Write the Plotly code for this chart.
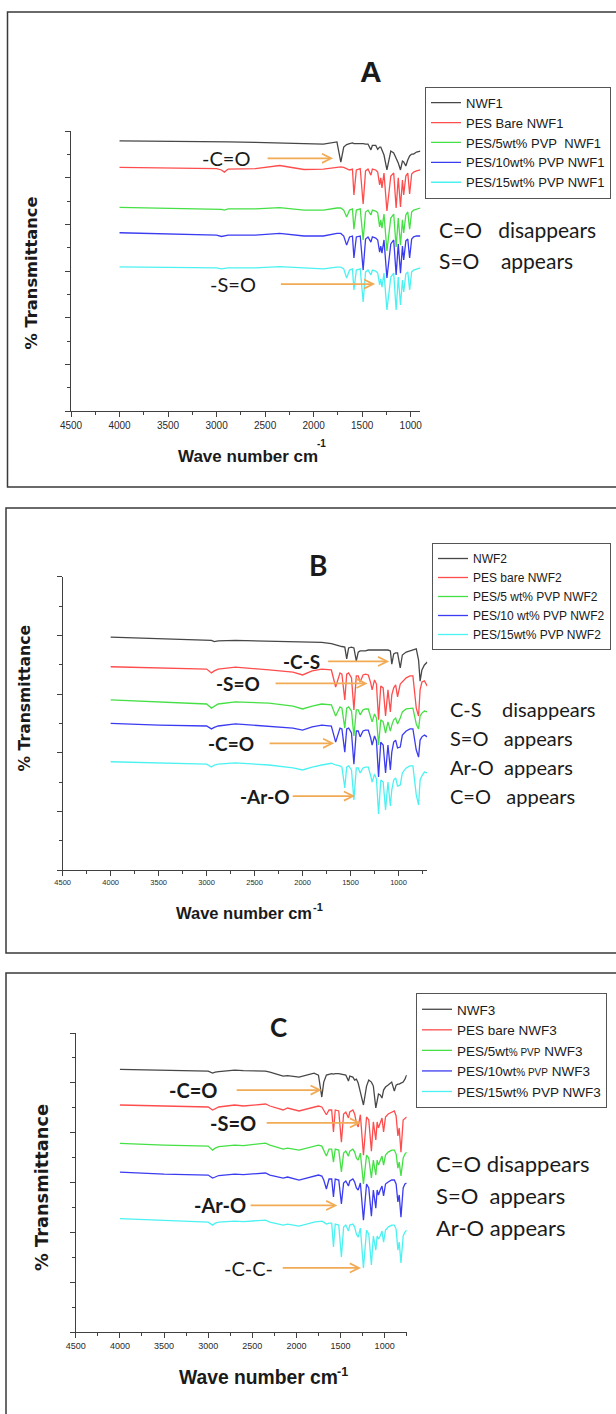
import plotly.graph_objects as go

W, H = 616, 1414

# ---------------- Panel A : NWF1 series ----------------
WN_A = [4000, 3500, 3000, 2950, 2920, 2880, 2600, 2350, 2100, 1900, 1760, 1720, 1690, 1660,
        1630, 1600, 1585, 1560, 1520, 1490, 1465, 1440, 1410, 1395, 1360, 1340, 1320, 1308,
        1296, 1275, 1245, 1205, 1175, 1150, 1128, 1105, 1085, 1072, 1050, 1030, 1011, 990,
        970, 940, 900]
A_NWF = [115.8, 115.7, 115.5, 115.4, 115.3, 115.3, 115.1, 114.9, 114.4, 114.4, 115.3, 106.7,
         113.1, 114.2, 114.6, 114.9, 114.6, 114.6, 114.9, 114.6, 114.4, 114.4, 111.9, 113.8,
         113.8, 112.1, 113.1, 113.1, 111.9, 109.7, 103.3, 111.4, 110.6, 108.4, 106.3, 103.3,
         107.1, 106.7, 105.0, 107.6, 109.3, 110.1, 110.1, 111.0, 111.4]
A_BARE = [104.4, 104.1, 103.9, 103.3, 102.4, 103.7, 103.9, 105.2, 103.5, 103.7, 104.6, 104.6,
          104.4, 103.7, 103.3, 103.7, 92.6, 103.3, 103.9, 88.7, 102.9, 103.7, 101.1, 103.7,
          103.3, 102.4, 96.9, 99.9, 95.6, 102.0, 85.7, 100.7, 102.0, 87.0, 99.9, 87.4, 99.0,
          92.6, 100.7, 102.0, 93.0, 101.6, 102.4, 102.9, 103.3]
A_PVP5 = [87.3, 87.0, 86.6, 86.4, 86.1, 86.6, 86.6, 87.2, 86.1, 86.1, 87.0, 87.0, 86.1, 83.1,
          86.1, 86.6, 77.9, 86.1, 86.6, 73.3, 85.3, 86.1, 84.0, 86.1, 85.7, 84.9, 78.9, 81.9,
          78.4, 84.4, 68.6, 82.7, 84.4, 70.3, 82.7, 71.1, 81.9, 76.3, 84.0, 85.3, 77.9, 85.3,
          86.1, 86.6, 87.0]
A_PVP10 = [76.4, 75.9, 75.4, 74.8, 75.0, 75.4, 75.4, 76.1, 75.0, 75.0, 76.1, 76.1, 75.0, 71.1,
           74.6, 75.0, 65.6, 74.6, 75.0, 60.4, 73.7, 74.6, 72.4, 74.6, 74.1, 73.3, 68.1, 70.7,
           67.7, 73.3, 57.0, 71.6, 73.3, 58.3, 71.6, 59.1, 70.7, 64.7, 72.9, 73.7, 65.6, 73.7,
           74.6, 75.0, 75.0]
A_PVP15 = [61.8, 61.5, 61.3, 60.9, 61.1, 61.3, 61.3, 61.9, 61.3, 60.9, 61.7, 61.7, 60.9, 57.0,
           60.4, 60.9, 51.9, 60.4, 60.9, 46.7, 59.6, 60.4, 58.3, 60.4, 60.0, 59.1, 54.0, 56.6,
           53.1, 59.1, 43.3, 57.4, 59.1, 43.3, 57.4, 45.4, 56.1, 51.0, 58.7, 59.6, 51.9, 59.6,
           60.4, 60.9, 61.3]
NAMES_A = ["NWF1", "PES Bare NWF1", "PES/5wt% PVP\u00a0 NWF1", "PES/10wt% PVP NWF1",
           "PES/15wt% PVP NWF1"]

# ---------------- Panel B : NWF2 series ----------------
WN_B = [4000, 3500, 3000, 2950, 2920, 2880, 2700, 2350, 2100, 2000, 1900, 1800, 1700, 1655,
        1610, 1590, 1560, 1540, 1520, 1490, 1465, 1440, 1420, 1400, 1370, 1345, 1315, 1290,
        1275, 1250, 1230, 1208, 1185, 1160, 1135, 1110, 1085, 1070, 1050, 1030, 1010, 982,
        960, 920, 880, 850, 815, 791, 775, 756, 730, 700]
B_NWF = [79.4, 78.9, 78.4, 78.3, 77.9, 78.1, 78.3, 78.1, 77.9, 77.9, 77.7, 77.6, 77.2, 76.7,
         76.4, 76.2, 76.0, 72.0, 75.7, 76.0, 75.7, 71.3, 74.3, 74.7, 74.7, 74.7, 75.0, 75.0,
         75.0, 75.0, 75.0, 75.0, 75.0, 75.0, 75.0, 75.0, 74.7, 70.2, 73.7, 74.0, 74.0, 68.9,
         73.3, 74.3, 74.7, 75.0, 75.4, 71.6, 64.4, 68.2, 69.9, 70.9]
B_BARE = [69.3, 68.9, 68.5, 67.2, 67.9, 68.5, 69.2, 68.2, 67.5, 66.5, 67.9, 68.5, 68.2, 62.4,
          67.2, 66.8, 58.0, 66.8, 67.2, 65.5, 54.6, 66.2, 66.2, 64.1, 66.5, 66.8, 66.5, 63.8,
          61.4, 64.8, 63.4, 51.2, 62.7, 62.1, 52.5, 61.4, 53.9, 59.7, 62.1, 63.1, 59.0, 63.4,
          64.1, 65.5, 66.2, 66.2, 55.2, 52.5, 61.4, 64.1, 64.5, 62.7]
B_PVP5 = [58.0, 57.3, 56.6, 55.2, 55.9, 56.6, 57.3, 56.9, 55.9, 54.9, 55.9, 56.6, 56.3, 52.5,
          55.6, 55.2, 48.4, 55.2, 55.6, 54.2, 45.7, 54.6, 54.6, 52.9, 54.6, 54.9, 54.9, 52.5,
          50.5, 53.2, 51.8, 42.6, 51.2, 50.5, 46.7, 50.5, 47.4, 49.4, 51.2, 51.8, 49.8, 51.8,
          53.9, 54.9, 55.2, 55.2, 49.8, 48.1, 52.5, 53.5, 54.2, 53.9]
B_PVP10 = [50.0, 49.4, 49.1, 48.1, 48.6, 49.1, 49.8, 49.1, 48.4, 47.7, 48.8, 49.4, 49.1, 43.6,
           48.4, 48.1, 40.2, 48.1, 48.4, 46.7, 36.1, 47.4, 47.4, 45.4, 47.4, 47.7, 47.7, 45.0,
           42.6, 45.7, 44.0, 31.7, 43.6, 42.6, 33.1, 42.6, 34.1, 40.2, 43.6, 44.3, 41.6, 41.9,
           46.0, 47.4, 48.1, 48.1, 40.9, 38.5, 44.3, 45.4, 46.0, 45.4]
B_PVP15 = [36.9, 36.5, 36.1, 35.1, 35.8, 36.1, 36.5, 35.8, 34.8, 34.1, 35.1, 35.8, 36.4, 35.8,
           35.5, 35.1, 28.0, 35.1, 35.5, 34.1, 23.9, 34.8, 34.8, 33.1, 34.8, 35.1, 35.1, 32.1,
           30.0, 32.7, 31.0, 19.1, 30.7, 30.0, 20.5, 30.0, 21.8, 27.3, 30.7, 31.4, 28.6, 29.0,
           33.1, 34.8, 35.5, 35.5, 25.6, 22.2, 30.7, 32.1, 33.4, 33.1]
NAMES_B = ["NWF2", "PES bare NWF2", "PES/5 wt% PVP NWF2", "PES/10 wt% PVP NWF2",
           "PES/15wt% PVP NWF2"]

# ---------------- Panel C : NWF3 series ----------------
WN_C = [4000, 3500, 3000, 2950, 2920, 2880, 2700, 2600, 2350, 2300, 2150, 2100, 1970, 1800,
        1750, 1712, 1690, 1660, 1630, 1600, 1580, 1560, 1520, 1490, 1465, 1440, 1410, 1395,
        1360, 1340, 1320, 1300, 1275, 1240, 1205, 1180, 1150, 1128, 1100, 1085, 1070, 1050,
        1030, 1012, 990, 960, 920, 890, 870, 850, 835, 815, 790, 770, 750]
C_NWF = [105.4, 105.1, 104.7, 103.9, 104.3, 104.5, 105.1, 104.9, 104.7, 104.3, 102.7, 102.9,
         102.3, 103.9, 103.1, 94.3, 100.3, 103.1, 103.5, 103.7, 103.5, 103.7, 103.7, 103.5,
         103.1, 103.1, 100.7, 102.7, 102.3, 101.1, 101.5, 99.9, 96.3, 91.1, 98.7, 101.1,
         100.3, 98.7, 89.9, 93.1, 95.5, 95.1, 93.9, 97.1, 98.3, 99.1, 100.3, 96.7, 99.1, 99.5,
         99.5, 99.9, 100.3, 101.5, 103.1]
C_BARE = [91.1, 90.7, 90.3, 89.1, 89.5, 90.3, 91.1, 90.7, 91.5, 90.7, 89.1, 89.9, 88.7, 90.3,
          90.7, 90.3, 88.7, 87.2, 89.1, 89.1, 80.3, 89.1, 88.7, 76.2, 87.5, 88.3, 85.9, 88.3,
          89.1, 87.5, 83.9, 82.3, 87.2, 71.0, 86.3, 85.1, 72.6, 84.3, 77.1, 84.3, 81.9, 84.3,
          85.9, 80.3, 86.3, 87.5, 88.3, 88.7, 86.7, 78.7, 81.9, 72.2, 85.1, 85.9, 86.3]
C_PVP5 = [75.7, 75.0, 74.6, 73.0, 73.8, 74.4, 75.0, 74.8, 75.8, 75.0, 73.4, 73.8, 73.0, 74.6,
          75.0, 74.6, 73.0, 70.6, 73.4, 73.4, 68.2, 73.4, 73.0, 64.2, 71.8, 72.6, 70.6, 72.6,
          73.4, 72.2, 69.8, 69.0, 71.8, 59.4, 71.0, 69.8, 61.8, 69.0, 63.0, 69.0, 67.0, 69.0,
          70.6, 67.0, 71.0, 72.2, 73.0, 73.0, 71.4, 65.8, 68.2, 62.6, 69.8, 71.4, 72.2]
C_PVP10 = [64.2, 63.4, 63.0, 61.8, 62.2, 62.8, 63.4, 63.2, 63.8, 63.0, 61.8, 62.2, 61.0, 62.6,
           63.0, 62.6, 61.0, 57.4, 61.4, 61.4, 54.2, 61.4, 61.0, 51.4, 59.8, 60.6, 58.6, 60.6,
           61.4, 60.2, 57.8, 57.0, 59.8, 44.9, 59.4, 57.8, 46.5, 57.0, 49.7, 57.0, 55.0, 57.0,
           58.6, 54.6, 59.4, 60.2, 61.0, 61.0, 59.4, 52.2, 55.0, 46.1, 57.8, 59.4, 59.8]
C_PVP15 = [45.5, 44.9, 44.1, 42.9, 43.7, 44.1, 44.5, 44.3, 44.9, 44.1, 42.9, 43.3, 42.5, 44.1,
           44.5, 44.5, 44.1, 43.3, 43.7, 43.7, 34.1, 43.3, 42.9, 30.1, 42.1, 42.9, 40.5, 42.9,
           43.3, 42.1, 39.3, 38.1, 41.7, 25.7, 40.9, 39.3, 26.9, 38.5, 32.9, 38.5, 37.3, 38.5,
           40.5, 36.1, 40.9, 42.1, 42.9, 42.9, 41.3, 32.9, 36.1, 27.7, 38.5, 40.1, 40.9]
SMALL = '<span style="font-size:10px">'
NAMES_C = ["NWF3", "PES bare NWF3", f"PES/5wt{SMALL}% PVP</span> NWF3",
           f"PES/10wt{SMALL}% PVP</span> NWF3", "PES/15wt% PVP NWF3"]

COLORS = ["#474747", "#ff4d4d", "#45e045", "#3b3bf2", "#4cf2f2"]
ARROW = "#f2ab55"
AXIS = "#404040"
INK = "#1a1a1a"
SANS = "Liberation Sans, Arial, sans-serif"
CALI = "Lato, Carlito, Calibri, sans-serif"
VERD = "DejaVu Sans, Verdana, sans-serif"


def fx(p):
    return p / W


def fy(p):
    return 1 - p / H


fig = go.Figure()

panels = [
    dict(sfx="", leg="legend", wn=WN_A, series=[A_NWF, A_BARE, A_PVP5, A_PVP10, A_PVP15],
         names=NAMES_A),
    dict(sfx="2", leg="legend2", wn=WN_B, series=[B_NWF, B_BARE, B_PVP5, B_PVP10, B_PVP15],
         names=NAMES_B),
    dict(sfx="3", leg="legend3", wn=WN_C, series=[C_NWF, C_BARE, C_PVP5, C_PVP10, C_PVP15],
         names=NAMES_C),
]
for p in panels:
    for vals, name, col in zip(p["series"], p["names"], COLORS):
        fig.add_trace(go.Scatter(
            x=p["wn"], y=vals, mode="lines", name=name,
            line=dict(color=col, width=1.3),
            xaxis="x" + p["sfx"], yaxis="y" + p["sfx"], legend=p["leg"],
            hoverinfo="skip"))


def xaxis(x0, x1, rng, fsize, anchor):
    return dict(domain=[fx(x0), fx(x1)], range=rng, anchor=anchor,
                showline=True, linecolor=AXIS, linewidth=1, showgrid=False, zeroline=False,
                ticks="outside", ticklen=5, tickwidth=1, tickcolor=AXIS,
                tick0=0, dtick=500,
                tickfont=dict(family=SANS, size=fsize, color="#2a2a2a"),
                minor=dict(dtick=250, ticks="outside", ticklen=3, tickcolor=AXIS,
                           showgrid=False),
                fixedrange=True)


def yaxis(top, bottom, ymax, anchor):
    return dict(domain=[fy(bottom), fy(top)], range=[0, ymax], anchor=anchor,
                showline=True, linecolor=AXIS, linewidth=1, showgrid=False, zeroline=False,
                ticks="outside", ticklen=5, tickwidth=1, tickcolor=AXIS,
                tick0=0, dtick=20, showticklabels=False,
                minor=dict(dtick=10, ticks="outside", ticklen=3, tickcolor=AXIS,
                           showgrid=False),
                fixedrange=True)


def legend(xp, yp, fsize):
    return dict(x=fx(xp), y=fy(yp), xanchor="left", yanchor="top",
                bgcolor="white", bordercolor="#555555", borderwidth=1,
                font=dict(family=SANS, size=fsize, color=INK),
                itemwidth=30, tracegroupgap=0)


annotations = []


def paper_text(xp, yp, text, size, family=CALI, bold=False, xanchor="center", **kw):
    annotations.append(dict(
        x=fx(xp), y=fy(yp), xref="paper", yref="paper", xanchor=xanchor, yanchor="middle",
        text=f"<b>{text}</b>" if bold else text, showarrow=False,
        font=dict(family=family, size=size, color=INK), **kw))


def band(ref, text, text_wn, tip_wn, y, gap, size=20, bold=False):
    """Group label with an arrow pointing at the absorption band at tip_wn."""
    annotations.append(dict(
        x=tip_wn, y=y, ax=text_wn, ay=y, xref="x" + ref, yref="y" + ref,
        axref="x" + ref, ayref="y" + ref,
        text=f"<b>{text}</b>" if bold else text,
        font=dict(family=CALI, size=size, color=INK),
        showarrow=True, arrowhead=5, arrowsize=1, arrowwidth=1.8, arrowcolor=ARROW,
        startstandoff=gap, standoff=0))


NB = "\u00a0"

# Panel A
paper_text(371, 71, "A", 30, family=SANS, bold=True)
band("", "-C=O", 2902, 1799, 108.3, 16)
band("", "-S=O", 2827, 1366, 54.4, 23)
paper_text(437, 230, f"C=O{NB}{NB} disappears", 21, xanchor="left")
paper_text(437, 260, f"S=O{NB}{NB}{NB} appears", 21, xanchor="left")
paper_text(248.5, 456.7, "Wave number cm", 17, family=SANS, bold=True)
paper_text(321, 443.5, "-1", 10, family=SANS, bold=True)
paper_text(31.5, 273, "% Transmittance", 16.3, family=VERD, bold=True, textangle=-90)

# Panel B
paper_text(318, 565, "B", 28, bold=True)
band("2", "-C-S", 2015, 1097, 71.1, 7, size=19, bold=True)
band("2", "-S=O", 2672, 1322, 63.6, 14, size=19, bold=True)
band("2", "-C=O", 2745, 1670, 43.2, 14, size=19, bold=True)
band("2", "-Ar-O", 2389, 1453, 25.2, 1, size=19, bold=True)
paper_text(448, 709.3, f"C-S{NB}{NB}{NB} disappears", 20, xanchor="left")
paper_text(448, 737.7, f"S=O{NB}{NB} appears", 20, xanchor="left")
paper_text(448, 766.7, f"Ar-O{NB} appears", 20, xanchor="left")
paper_text(448, 795.7, f"C=O{NB}{NB} appears", 20, xanchor="left")
paper_text(243.5, 913, "Wave number cm", 16.5, family=SANS, bold=True)
paper_text(310.5, 907, "-1", 11, family=SANS, bold=True, xanchor="left")
paper_text(24.5, 698, "% Transmittance", 15.6, family=VERD, bold=True, textangle=-90)

# Panel C
paper_text(278, 1027, "C", 26, bold=True)
band("3", "-C=O", 3170, 1713, 97.1, 18, bold=True)
band("3", "-S=O", 2716, 1268, 83.9, 9, bold=True)
band("3", "-Ar-O", 2864, 1536, 50.8, 3, bold=True)
band("3", "-C-C-", 2540, 1268, 25.7, 8)
paper_text(434, 1163, "C=O disappears", 22, xanchor="left")
paper_text(434, 1195, f"S=O{NB} appears", 22, xanchor="left")
paper_text(434, 1227, "Ar-O appears", 22, xanchor="left")
paper_text(258.5, 1377, "Wave number cm", 19.3, family=SANS, bold=True)
paper_text(335.5, 1371.5, "-1", 12.5, family=SANS, bold=True, xanchor="left")
paper_text(41, 1188, "% Transmittance", 17.8, family=VERD, bold=True, textangle=-90)

# Panel frames (open on the right where they run off the page)
frame = dict(color="#3a3a3a", width=1.5)
shapes = [
    dict(type="rect", xref="paper", yref="paper", x0=fx(7.5), x1=fx(640), y0=fy(487),
         y1=fy(12), line=frame),
    dict(type="rect", xref="paper", yref="paper", x0=fx(6), x1=fx(640), y0=fy(953),
         y1=fy(508), line=frame),
    dict(type="rect", xref="paper", yref="paper", x0=fx(6), x1=fx(640), y0=fy(1440),
         y1=fy(973), line=frame),
]

fig.update_layout(
    width=W, height=H, margin=dict(l=0, r=0, t=0, b=0, autoexpand=False),
    paper_bgcolor="white", plot_bgcolor="rgba(0,0,0,0)",
    showlegend=True,
    xaxis=xaxis(71, 420.4, [4500, 900], 10, "y"),
    yaxis=yaxis(131, 411, 120, "x"),
    xaxis2=xaxis(62.7, 427.3, [4500, 700], 7.5, "y2"),
    yaxis2=yaxis(576.7, 870, 100, "x2"),
    xaxis3=xaxis(75.8, 406.7, [4500, 750], 9, "y3"),
    yaxis3=yaxis(1033, 1332, 120, "x3"),
    legend=legend(425, 86.7, 13),
    legend2=legend(432, 543, 12),
    legend3=legend(416, 993, 13.5),
    annotations=annotations,
    shapes=shapes,
)

fig.write_html("out.html")
